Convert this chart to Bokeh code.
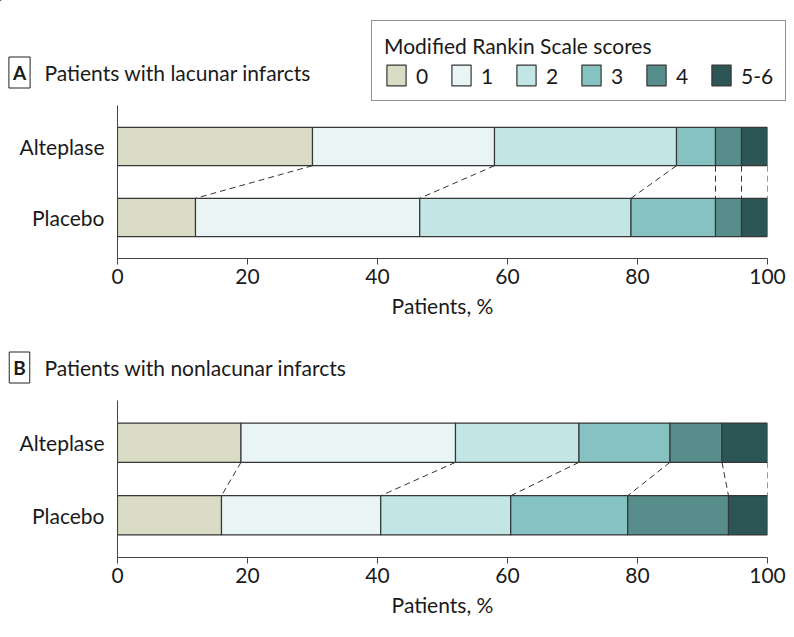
import numpy as np
from bokeh.plotting import figure
from bokeh.models import (ColumnDataSource, Range1d, FactorRange, Legend, LegendItem,
                          Label, FixedTicker)
from bokeh.layouts import column, row
from bokeh.embed import file_html
from bokeh.resources import INLINE

# ---------------- data ----------------
groups = ["Alteplase", "Placebo"]
score_labels = ["0", "1", "2", "3", "4", "5-6"]
lacunar_alteplase = [30, 28, 28, 6, 4, 4]
lacunar_placebo = [12, 34.5, 32.5, 13, 4, 4]
nonlacunar_alteplase = [19, 33, 19, 14, 8, 7]
nonlacunar_placebo = [16, 24.5, 20, 18, 15.5, 6]
x_ticks = [0, 20, 40, 60, 80, 100]
colors = ["#dadcc6", "#e9f4f4", "#c1e6e5", "#86c2c1", "#578e8b", "#2b5655"]

FONT = "Lato"
TXT = "#1a1a1a"
EDGE = "#363636"
AX = "#444444"
BAR_H = 0.54
W = 794


def make_header(letter, title, height, box_y, with_legend):
    h = figure(width=W, height=height, output_backend="svg", toolbar_location=None,
               x_range=Range1d(0, W), y_range=Range1d(height, 0),
               x_axis_type=None, y_axis_type=None,
               min_border=0, min_border_left=0, min_border_right=0,
               min_border_top=0, min_border_bottom=0)
    h.grid.visible = False
    h.outline_line_color = None
    h.add_layout(Label(x=19, y=box_y, text=letter, text_align="center",
                       text_baseline="middle", text_font=FONT, text_font_style="bold",
                       text_font_size="19px", text_color=TXT,
                       border_line_color="#222222", border_line_width=1,
                       background_fill_color="white", padding=4))
    h.add_layout(Label(x=44, y=box_y, text=title, text_align="left",
                       text_baseline="middle", text_font=FONT, text_font_size="21px",
                       text_color=TXT))
    if with_legend:
        # legend-only renderers, placed outside the visible header area
        rs = [h.hbar(y=[-100], left=[-100], right=[-90], height=1, fill_color=c,
                     line_color=EDGE, line_width=1.2) for c in colors]
        items = [LegendItem(label=lab, renderers=[r]) for lab, r in zip(score_labels, rs)]
        leg = Legend(items=items, orientation="horizontal", location=(371, height - 101),
                     title="Modified Rankin Scale scores",
                     title_text_font=FONT, title_text_font_size="21px",
                     title_text_font_style="normal", title_text_color=TXT,
                     title_standoff=4,
                     label_text_font=FONT, label_text_font_size="21px",
                     label_text_color=TXT, label_standoff=8, label_width=20,
                     glyph_width=24, glyph_height=26, spacing=13, padding=12,
                     margin=0, border_line_color="#222222", border_line_width=1,
                     background_fill_color="white", background_fill_alpha=1)
        h.add_layout(leg, "center")
    return h


def make_panel(alte, plac, frame_h, bottom):
    p = figure(width=W, height=frame_h + bottom, output_backend="svg",
               toolbar_location=None, x_range=Range1d(0, 100),
               y_range=FactorRange(factors=list(reversed(groups)), range_padding=0.08,
                                   range_padding_units="absolute"),
               min_border_left=117, min_border_right=27, min_border_top=0,
               min_border_bottom=bottom)
    p.outline_line_color = None
    p.xgrid.visible = False
    p.ygrid.visible = False

    keys = ["s%d" % i for i in range(len(score_labels))]
    data = {"group": groups}
    for i, k in enumerate(keys):
        data[k] = [alte[i], plac[i]]
    src = ColumnDataSource(data)

    # dashed connectors between cumulative boundaries
    ca = np.cumsum(alte)
    cp = np.cumsum(plac)
    seg = ColumnDataSource(dict(
        x0=list(ca), x1=list(cp),
        y0=[("Alteplase", -BAR_H / 2)] * len(ca),
        y1=[("Placebo", BAR_H / 2)] * len(cp)))
    p.segment(x0="x0", y0="y0", x1="x1", y1="y1", source=seg,
              line_color="#333333", line_width=1, line_dash="6 4")

    p.hbar_stack(keys, y="group", height=BAR_H, color=colors, source=src,
                 line_color=EDGE, line_width=1.2)

    xa = p.xaxis[0]
    xa.ticker = FixedTicker(ticks=x_ticks)
    xa.minor_tick_line_color = None
    xa.major_tick_in = 0
    xa.major_tick_out = 6
    xa.axis_line_color = AX
    xa.major_tick_line_color = AX
    xa.major_label_text_font = FONT
    xa.major_label_text_font_size = "21px"
    xa.major_label_text_color = TXT
    xa.major_label_standoff = 4
    xa.axis_label = "Patients, %"
    xa.axis_label_text_font = FONT
    xa.axis_label_text_font_size = "21px"
    xa.axis_label_text_font_style = "normal"
    xa.axis_label_text_color = TXT
    xa.axis_label_standoff = 6

    ya = p.yaxis[0]
    ya.major_tick_line_color = None
    ya.minor_tick_line_color = None
    ya.major_tick_out = 0
    ya.axis_line_color = AX
    ya.major_label_text_font = FONT
    ya.major_label_text_font_size = "21px"
    ya.major_label_text_color = TXT
    ya.major_label_standoff = 13
    return p


hA = make_header("A", "Patients with lacunar infarcts", 105, 72, True)
pA = make_panel(lacunar_alteplase, lacunar_placebo, frame_h=155, bottom=60)
hB = make_header("B", "Patients with nonlacunar infarcts", 80, 47, False)
pB = make_panel(nonlacunar_alteplase, nonlacunar_placebo, frame_h=157, bottom=72)

layout = column(row(hA, spacing=0), row(pA, spacing=0), row(hB, spacing=0),
                row(pB, spacing=0), spacing=0)
open("out.html", "w").write(file_html(layout, INLINE))
